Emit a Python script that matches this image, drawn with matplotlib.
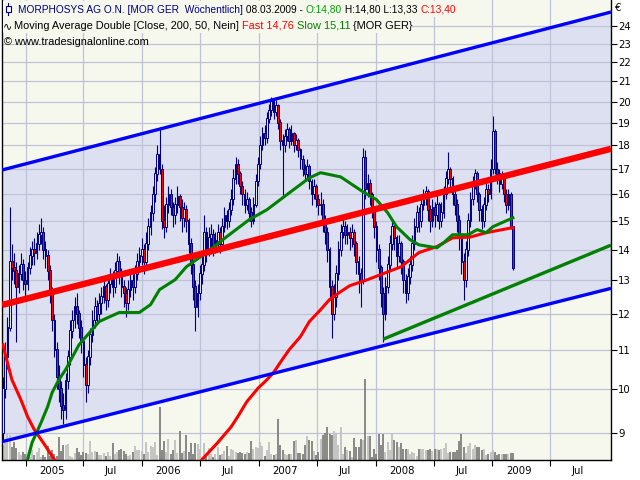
"""MorphoSys weekly candles with trend channel, MAs and volume."""

import matplotlib
matplotlib.use("Agg")
import matplotlib.pyplot as plt
import matplotlib.dates as mdates
from matplotlib.patches import Rectangle
import numpy as np
import pandas as pd

# weekly closes (EUR), last bar = week of 08.03.2009
close = [10.0, 10.8, 11.6, 13.6, 13.4, 13.3, 12.8, 13.2, 13.5, 13.0,
         12.9, 13.4, 13.8, 14.0, 13.9, 14.2, 14.5, 14.6, 14.0, 13.8,
         13.3, 12.6, 11.8, 11.0, 10.3, 10.0, 9.6, 9.5, 10.2, 10.8,
         11.5, 11.8, 12.2, 12.0, 11.6, 11.2, 10.6, 10.1, 10.8, 11.4,
         11.8, 12.2, 12.0, 12.3, 12.5, 12.8, 12.4, 12.9, 13.1, 12.8,
         13.3, 13.6, 13.2, 12.8, 12.6, 12.3, 12.7, 13.0, 12.8, 13.2,
         13.6, 13.8, 14.0, 13.6, 14.2, 14.8, 15.3, 16.0, 16.8, 17.6,
         17.0, 15.0, 14.8, 15.6, 16.0, 15.5, 15.2, 15.6, 15.9, 15.5,
         15.1, 15.4, 15.0, 14.2, 13.5, 12.8, 12.2, 12.6, 13.2, 13.5,
         14.6, 14.0, 14.4, 14.5, 14.1, 14.3, 14.6, 14.2, 14.8, 15.2,
         15.0, 15.4, 15.8, 16.6, 17.2, 16.8, 16.3, 16.0, 15.6, 15.8,
         15.3, 15.0, 15.6, 16.5, 17.2, 18.0, 18.5, 18.3, 19.2, 19.6,
         20.0, 19.5, 19.8, 19.0, 18.2, 18.0, 18.4, 18.7, 18.2, 18.5,
         18.0, 18.2, 17.8, 17.4, 17.0, 16.8, 17.1, 16.5, 16.0, 16.3,
         15.8, 15.6, 15.6, 15.0, 14.6, 14.0, 12.8, 12.0, 12.5, 13.2,
         14.0, 14.6, 14.8, 14.5, 14.6, 14.4, 14.6, 14.2, 13.6, 13.2,
         13.0, 17.5, 16.2, 16.4, 16.0, 15.4, 14.8, 14.0, 13.4, 12.6,
         12.0, 12.8, 13.5, 14.2, 14.8, 14.4, 13.8, 14.2, 13.6, 13.0,
         12.6, 13.1, 13.5, 14.2, 14.8, 15.3, 15.0, 15.6, 15.9, 16.1,
         15.4, 15.0, 15.5, 15.2, 15.6, 15.0, 15.3, 16.0, 16.6, 17.0,
         16.6, 16.0, 15.6, 15.0, 14.4, 13.6, 13.0, 14.0, 15.0, 15.8,
         16.4, 16.8, 16.0, 15.4, 15.0, 15.6, 16.2, 16.0, 17.0, 18.6,
         17.0, 16.8, 16.4, 16.6, 16.0, 15.6, 16.0, 14.8, 13.4]
first_open = 9.0

high = [10.3, 11.2, 11.9, 15.5, 14.2, 13.9, 13.6, 13.5, 13.9, 13.7,
        13.3, 13.6, 14.1, 14.3, 14.4, 14.6, 14.9, 15.1, 14.8, 14.3,
        14.0, 13.5, 12.8, 12.0, 11.2, 10.6, 10.2, 9.9, 10.4, 11.0,
        11.8, 12.1, 12.5, 12.6, 12.1, 11.8, 11.3, 10.8, 11.0, 11.6,
        12.1, 12.5, 12.4, 12.6, 12.8, 13.1, 12.9, 13.2, 13.4, 13.3,
        13.6, 13.9, 13.8, 13.4, 13.0, 12.8, 13.0, 13.3, 13.2, 13.5,
        13.9, 14.1, 14.4, 14.2, 14.6, 15.1, 15.6, 16.3, 17.1, 18.0,
        18.8, 17.2, 15.6, 15.9, 16.3, 16.2, 15.7, 15.9, 16.3, 16.0,
        15.8, 15.7, 15.6, 15.1, 14.4, 13.7, 13.0, 12.9, 13.5, 13.9,
        15.2, 14.8, 14.8, 14.9, 14.7, 14.6, 14.9, 14.8, 15.1, 15.5,
        15.4, 15.7, 16.2, 17.0, 17.5, 17.4, 16.9, 16.5, 16.2, 16.1,
        15.9, 15.5, 15.9, 16.8, 17.5, 18.4, 18.8, 18.9, 19.5, 19.9,
        20.2, 20.1, 20.1, 19.9, 19.2, 18.5, 18.7, 19.0, 18.8, 18.9,
        18.6, 18.5, 18.3, 17.9, 17.6, 17.2, 17.4, 17.2, 16.6, 16.6,
        16.4, 16.0, 16.1, 15.8, 15.2, 14.8, 14.1, 13.0, 12.9, 13.5,
        14.3, 14.9, 15.2, 15.0, 14.9, 14.8, 14.9, 14.7, 14.3, 13.8,
        13.4, 17.9, 17.8, 16.8, 16.6, 16.1, 15.5, 15.0, 14.2, 13.5,
        12.8, 13.1, 13.8, 14.5, 15.0, 14.9, 14.5, 14.5, 14.3, 13.7,
        13.2, 13.4, 13.8, 14.5, 15.1, 15.6, 15.5, 15.9, 16.2, 16.3,
        16.2, 15.6, 15.8, 15.7, 16.0, 15.7, 15.7, 16.3, 16.9, 17.7,
        17.1, 16.7, 16.2, 15.8, 15.2, 14.5, 13.9, 14.3, 15.3, 16.1,
        16.7, 17.0, 16.9, 16.1, 15.6, 15.9, 16.5, 16.4, 17.4, 19.3,
        18.7, 17.3, 17.0, 16.9, 16.7, 16.2, 16.2, 16.1, 14.8]

low = [8.8, 9.8, 10.5, 11.5, 13.0, 12.9, 11.2, 12.6, 13.0, 12.7,
       12.5, 12.7, 13.2, 13.5, 13.5, 13.7, 14.0, 14.2, 13.7, 13.4,
       13.0, 12.3, 11.5, 10.8, 10.0, 9.7, 9.3, 9.2, 9.3, 10.0,
       10.6, 11.3, 11.6, 11.7, 11.3, 10.9, 10.3, 9.7, 9.9, 10.6,
       11.2, 11.6, 11.7, 11.8, 12.0, 12.3, 12.1, 12.2, 12.6, 12.5,
       12.6, 13.1, 12.9, 12.5, 12.2, 11.9, 12.1, 12.5, 12.4, 12.6,
       13.0, 13.3, 13.5, 13.2, 13.4, 14.0, 14.5, 15.0, 15.7, 16.5,
       16.8, 14.7, 14.4, 14.6, 15.3, 15.2, 14.8, 14.9, 15.3, 15.0,
       14.6, 14.8, 14.6, 13.9, 13.2, 12.4, 11.5, 11.9, 12.4, 12.9,
       13.3, 13.6, 13.8, 14.0, 13.8, 13.9, 14.1, 13.9, 14.0, 14.6,
       14.7, 14.8, 15.2, 15.6, 16.4, 16.4, 16.0, 15.6, 15.3, 15.4,
       15.0, 14.8, 14.9, 15.5, 16.3, 17.0, 17.8, 18.0, 18.1, 19.0,
       19.3, 19.2, 19.3, 18.7, 17.8, 15.9, 17.7, 18.2, 17.9, 18.0,
       17.7, 17.8, 17.5, 17.0, 16.7, 16.5, 16.6, 16.2, 15.6, 15.8,
       15.5, 15.2, 15.2, 14.6, 14.2, 13.6, 12.4, 11.3, 11.8, 12.2,
       13.0, 13.8, 14.4, 14.2, 14.2, 14.0, 14.1, 13.8, 13.2, 12.6,
       12.2, 12.9, 15.8, 15.9, 15.6, 15.1, 14.4, 13.6, 13.0, 12.2,
       11.2, 11.8, 12.6, 13.3, 14.0, 14.0, 13.4, 13.6, 13.2, 12.6,
       12.3, 12.4, 12.9, 13.3, 14.0, 14.6, 14.6, 14.8, 15.4, 15.6,
       15.0, 14.6, 14.8, 14.8, 15.0, 14.7, 14.8, 15.1, 15.8, 16.4,
       16.2, 15.6, 15.2, 14.6, 14.0, 13.2, 12.4, 12.8, 13.8, 14.8,
       15.6, 16.2, 15.7, 15.0, 14.7, 14.8, 15.4, 15.7, 15.8, 16.8,
       16.8, 16.4, 16.1, 16.2, 15.7, 15.3, 15.4, 14.7, 13.33]

# weekly volume (relative units)
volume = [15, 17, 27, 25, 13, 18, 12, 8, 5, 8, 6, 5, 3, 10, 5, 8, 12, 3, 5, 3,
          14, 4, 10, 6, 4, 23, 9, 15, 15, 16, 4, 3, 7, 12, 8, 5, 8, 7, 6, 19,
          8, 9, 8, 5, 5, 7, 4, 8, 4, 17, 6, 8, 10, 11, 9, 6, 4, 5, 8, 14,
          10, 10, 9, 6, 18, 8, 14, 13, 18, 5,
          53, 10, 19, 8, 21, 6, 10, 20, 7, 29, 7, 9, 25, 8, 17, 6, 17, 16, 11, 3,
          17, 3, 12, 6, 3, 6, 13, 5, 6, 9, 14, 4, 11, 10, 8, 7, 8, 7, 6, 8,
          7, 19, 11, 13, 12, 18, 14, 4, 10, 18, 6, 5, 6,
          41, 15, 10, 6, 5, 6, 6, 19, 20, 7, 7, 6, 15, 24, 20, 19, 9, 5, 8, 21,
          25, 27, 33, 26, 25, 29, 27, 15, 33, 6, 13, 10, 9, 3, 22, 13, 13, 21, 20,
          81, 24, 24, 3, 11, 6, 26, 15, 26, 8, 18, 10, 26, 20, 18, 13, 17, 11, 11,
          11, 6, 8, 7, 4, 11, 11, 11, 10, 10, 11, 9, 11, 11, 10, 11, 12, 17, 7, 8,
          8, 8, 10, 19, 26, 13, 7, 14, 17, 11, 15, 13, 13, 10, 11, 5, 6, 8, 10, 8,
          5, 6, 6, 6, 6, 6, 7, 7]

# moving averages (bar index, value)
fast_a_idx = [0, 2, 4, 8, 11, 14, 18, 23, 29]
fast_a_val = [11.13, 10.66, 10.23, 9.75, 9.36, 9.07, 8.79, 8.44, 8.1]
fast_b_idx = [86, 89, 96, 102, 105, 109, 114, 118, 121, 125, 128, 133, 137,
              142, 146, 151, 155, 163, 178, 186, 194, 201, 209, 216, 228]
fast_b_val = [8.15, 8.44, 8.79, 9.13, 9.36, 9.70, 10.02, 10.23, 10.41, 10.75,
              11.0, 11.35, 11.77, 12.11, 12.41, 12.65, 12.83, 13.02, 13.43,
              13.9, 14.1, 14.4, 14.43, 14.58, 14.76]
slow_idx = [8, 11, 13, 17, 20, 22, 25, 28, 34, 43, 52, 61, 66, 70, 77, 82, 91,
            100, 110, 118, 128, 137, 142, 151, 161, 167, 172, 176, 182, 186,
            194, 197, 201, 208, 212, 216, 219, 224, 228]
slow_val = [8.1, 8.44, 8.79, 9.22, 9.59, 9.92, 10.23, 10.48, 11.13, 11.77,
            12.03, 12.03, 12.26, 12.71, 13.02, 13.43, 13.9, 14.44, 15.04,
            15.41, 16.05, 16.64, 16.85, 16.68, 16.09, 15.79, 15.3, 14.79,
            14.34, 14.16, 14.06, 14.23, 14.51, 14.51, 14.69, 14.58, 14.79,
            14.97, 15.11]

# drawn trend lines: (start date, start value, end date, end value)
upper_channel = ("2004-10-19", 16.96, "2010-01-07", 24.82)
lower_channel = ("2004-10-19", 8.81, "2010-01-07", 12.75)
mid_line = ("2004-10-19", 12.25, "2010-01-07", 17.85)
support_line = ("2008-01-25", 11.28, "2010-01-07", 14.15)

years = [2005, 2006, 2007, 2008, 2009]

NAVY = "#000080"
BAND = "#DDE0F0"
BG = "#F6F8EE"
GRID = "#BFC1D6"


def d2n(s):
    return mdates.date2num(pd.Timestamp(s).to_pydatetime())


dates = pd.date_range(end="2009-03-06", periods=len(close), freq="W-FRI")
x = mdates.date2num(dates.to_pydatetime())
c = np.array(close)
o = np.array([first_open] + close[:-1])
h = np.array(high)
lo = np.array(low)
up = c >= o

fig = plt.figure(figsize=(6.4, 4.8), dpi=100)
ax = fig.add_axes([2 / 640, 20 / 480, 609 / 640, 460 / 480])
ax.set_facecolor(BG)
ax.set_yscale("log")
ax.set_xlim(d2n("2004-10-19"), d2n("2010-01-07"))
ax.set_ylim(8.43, 25.55)

# channel band
ux = [d2n(upper_channel[0]), d2n(upper_channel[2])]
ax.fill_between(ux, [lower_channel[1], lower_channel[3]],
                [upper_channel[1], upper_channel[3]], color=BAND, lw=0, zorder=0.2)

# grid
ax.set_axisbelow(True)
ax.grid(True, which="major", color=GRID, lw=0.9)

# volume at the bottom
vcol = np.where(up, "#C0C0C0", "#808080")
n0 = len(x) - len(volume)
ax.vlines(x[n0:], 0, np.array(volume) / 460.0, colors=vcol[n0:],
          lw=1.3, transform=ax.get_xaxis_transform(), zorder=1)

# candles
ax.vlines(x, lo, h, color=NAVY, lw=0.8, zorder=3)
body_lo = np.minimum(o, c)
body_h = np.abs(c - o) + 0.02
ax.bar(x[up], body_h[up], bottom=body_lo[up], width=5.5, facecolor=BAND,
       edgecolor=NAVY, lw=0.7, zorder=4)
ax.bar(x[~up], body_h[~up], bottom=body_lo[~up], width=5.5, facecolor="#FF0000",
       edgecolor=NAVY, lw=0.7, zorder=4)

# moving averages
ax.plot(x[fast_a_idx], fast_a_val, color="#FF0000", lw=2.2, zorder=5)
ax.plot(x[fast_b_idx], fast_b_val, color="#FF0000", lw=2.2, zorder=5)
ax.plot(x[slow_idx], slow_val, color="#008000", lw=2.2, zorder=5)

# trend lines
for line, col, lw in [(upper_channel, "#0000FF", 2.4), (lower_channel, "#0000FF", 2.4),
                      (mid_line, "#FF0000", 4.6), (support_line, "#008000", 2.4)]:
    ax.plot([d2n(line[0]), d2n(line[2])], [line[1], line[3]],
            color=col, lw=lw, solid_capstyle="butt", zorder=6)

# y axis on the right
ax.yaxis.tick_right()
yt = list(range(9, 25))
ax.set_yticks(yt)
ax.set_yticklabels([str(v) for v in yt])
ax.yaxis.set_minor_locator(matplotlib.ticker.NullLocator())
ax.tick_params(axis="y", which="major", direction="out", length=4, pad=1,
               labelsize=7.3, width=0.8)

# x axis: ticks at half years, labels in between
major = [d2n(f"{y}-{m:02d}-01") for y in years for m in (1, 7)]
ax.set_xticks(major)
ax.set_xticklabels([""] * len(major))
lab_pos, lab_txt = [], []
for y in years:
    lab_pos += [d2n(f"{y}-03-24"), d2n(f"{y}-09-25")]
    lab_txt += [str(y), "Jul"]
ax.set_xticks(lab_pos, minor=True)
ax.set_xticklabels(lab_txt, minor=True)
ax.tick_params(axis="x", which="major", direction="out", length=4, width=0.8)
ax.tick_params(axis="x", which="minor", length=0, pad=4, labelsize=7.3)
ax.grid(False, which="minor")

for side in ("left", "right", "bottom"):
    ax.spines[side].set_color("black")
    ax.spines[side].set_linewidth(1.0)
ax.spines["top"].set_visible(False)

fig.text(615 / 640, 1 - 8 / 480, "\u20ac", fontsize=7.3, va="center", ha="left")

# header: plain boxes behind the first two lines, then chained coloured text
ftr = fig.transFigure
for x0, y0, x1, y1 in [(3, 1, 450, 17), (3, 17, 412, 33)]:
    ax.add_patch(Rectangle((x0 / 640, 1 - y1 / 480), (x1 - x0) / 640, (y1 - y0) / 480,
                           transform=ftr, facecolor=BG, lw=0, zorder=7, clip_on=False))


def chain(xpx, ypx, parts, size):
    prev = ax.text(xpx / 640, 1 - ypx / 480, parts[0][0], color=parts[0][1],
                   fontsize=size, family="Liberation Sans", va="bottom", ha="left",
                   transform=ftr, zorder=8)
    for txt, col in parts[1:]:
        prev = ax.annotate(txt, xy=(1, 0), xycoords=prev, va="bottom", ha="left",
                           color=col, fontsize=size, family="Liberation Sans",
                           annotation_clip=False, zorder=8)


chain(18, 15, [("MORPHOSYS AG O.N. [MOR GER  W\u00f6chentlich]", NAVY),
               (" 08.03.2009 - ", "black"), ("O:14,80", "#00A000"),
               (" H:14,80 L:13,33 ", "black"), ("C:13,40", "#FF0000")], 7.3)
chain(14, 31, [("Moving Average Double [Close, 200, 50, Nein] ", "black"),
               ("Fast 14,76", "#FF0000"), (" Slow 15,11", "#008000"),
               (" {MOR GER}", "black")], 7.9)
ax.text(4 / 640, 1 - 47 / 480, "\u00a9 www.tradesignalonline.com", fontsize=7.9,
        family="Liberation Sans", va="bottom", ha="left", transform=ftr, zorder=8)

# small icons in front of the header lines
ax.plot([8 / 640, 8 / 640], [1 - 3 / 480, 1 - 15 / 480], color=NAVY, lw=0.8,
        transform=ftr, zorder=9, clip_on=False)
ax.add_patch(Rectangle((5.5 / 640, 1 - 12 / 480), 5 / 640, 6 / 480, facecolor=BG,
                       edgecolor=NAVY, lw=0.8, transform=ftr, zorder=9, clip_on=False))
ax.text(3 / 640, 1 - 31 / 480, "\u223f", fontsize=8, family="DejaVu Sans",
        va="bottom", ha="left", transform=ftr, zorder=9)

fig.savefig("out.png", dpi=100)
